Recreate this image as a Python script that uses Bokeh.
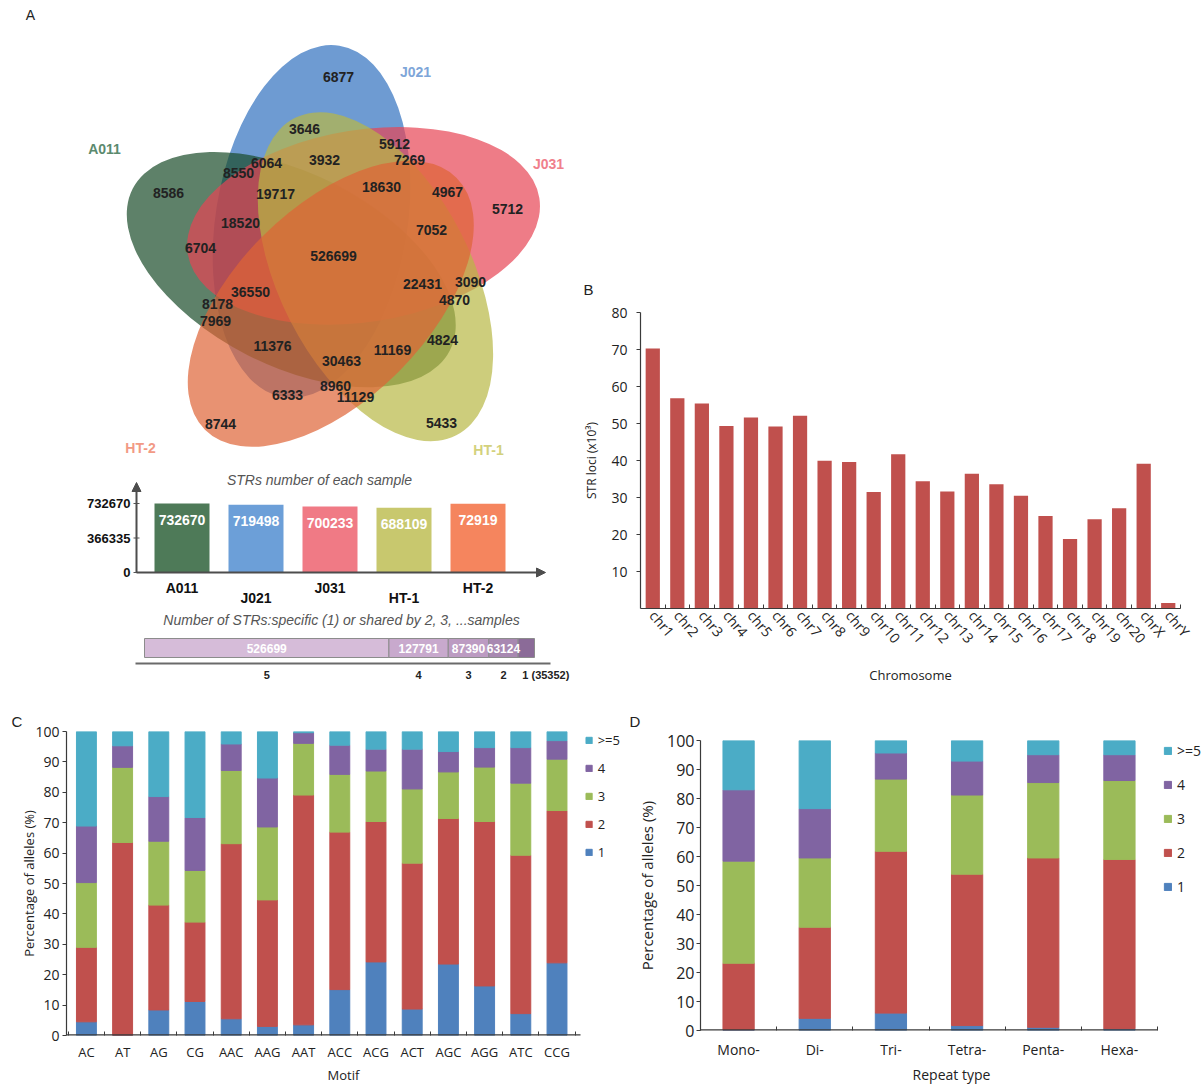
import math
from bokeh.plotting import figure
from bokeh.layouts import column, row
from bokeh.models import (Range1d, FixedTicker, ColumnDataSource, Arrow, NormalHead,
                          Legend, LegendItem, Spacer)
from bokeh.core.properties import value
from bokeh.embed import file_html
from bokeh.resources import INLINE

ARIAL = "Liberation Sans"
SANS = "Open Sans"

# ---------------- Panel A data ----------------
venn_sets = ["J021", "J031", "HT-1", "HT-2", "A011"]
venn_fill = ["#3070BF", "#E74554", "#B8B845", "#DE6436", "#1A4C29"]
venn_name_color = ["#7EA6D9", "#F0808C", "#D3D17D", "#F29A85", "#5B8A6E"]
venn_draw_order = ["J021", "A011", "J031", "HT-1", "HT-2"]
venn_name_px_x = [415, 548, 488, 140, 104]
venn_name_px_y = [71, 163, 449, 447, 148]

region_counts = [6877, 3646, 5912, 3932, 7269, 6064, 8550, 8586, 19717, 18630,
                 4967, 5712, 18520, 7052, 6704, 526699, 22431, 3090, 36550, 4870,
                 8178, 7969, 4824, 11376, 11169, 30463, 8960, 11129, 6333, 8744, 5433]
region_px_x = [338, 304, 394, 324, 409, 266, 238, 168, 275, 381,
               447, 507, 240, 431, 200, 333, 422, 470, 250, 454,
               217, 215, 442, 272, 392, 341, 335, 355, 287, 220, 441]
region_px_y = [76, 128, 143, 159, 159, 162, 172, 192, 193, 186,
               191, 208, 222, 229, 247, 255, 283, 281, 291, 299,
               303, 320, 339, 345, 349, 360, 385, 396, 394, 423, 422]

samples = ["A011", "J021", "J031", "HT-1", "HT-2"]
sample_totals = [732670, 719498, 700233, 688109, 729190]
sample_total_text = ["732670", "719498", "700233", "688109", "72919"]
sample_colors = ["#4E7A58", "#6C9FD8", "#F07A85", "#C8C86E", "#F5855E"]

shared_groups = ["5", "4", "3", "2", "1"]
shared_counts = [526699, 127791, 87390, 63124, 35352]
shared_colors = ["#D6BCD9", "#C8A9CD", "#BC9BC2", "#A888B1", "#8B6B98"]

# ---------------- Panel B data ----------------
chromosomes = ["chr1", "chr2", "chr3", "chr4", "chr5", "chr6", "chr7", "chr8", "chr9", "chr10",
               "chr11", "chr12", "chr13", "chr14", "chr15", "chr16", "chr17", "chr18", "chr19",
               "chr20", "chrX", "chrY"]
str_loci_k = [70.3, 56.8, 55.4, 49.3, 51.6, 49.2, 52.1, 39.9, 39.6, 31.5, 41.7,
              34.4, 31.6, 36.4, 33.6, 30.5, 25.0, 18.8, 24.1, 27.1, 39.1, 1.5]

# ---------------- Panel C / D data ----------------
allele_classes = ["1", "2", "3", "4", ">=5"]
allele_colors = ["#4F81BD", "#C0504D", "#9BBB59", "#8064A2", "#4BACC6"]

motifs = ["AC", "AT", "AG", "CG", "AAC", "AAG", "AAT", "ACC", "ACG", "ACT", "AGC", "AGG", "ATC", "CCG"]
motif_pct_1 = [4.5, 0.0, 8.4, 11.2, 5.5, 3.0, 3.5, 15.1, 24.2, 8.7, 23.5, 16.3, 7.2, 23.9]
motif_pct_2 = [24.5, 63.5, 34.5, 26.1, 57.6, 41.6, 75.6, 51.8, 46.2, 48.0, 47.9, 54.1, 52.1, 50.1]
motif_pct_3 = [21.3, 24.7, 21.0, 17.0, 24.1, 24.0, 17.0, 19.0, 16.6, 24.4, 15.3, 17.9, 23.7, 16.9]
motif_pct_4 = [18.6, 7.1, 14.7, 17.4, 8.7, 16.1, 3.5, 9.6, 7.2, 13.1, 6.7, 6.4, 11.7, 6.1]
motif_pct_5 = [31.1, 4.7, 21.4, 28.3, 4.1, 15.3, 0.4, 4.5, 5.8, 5.8, 6.6, 5.3, 5.3, 3.0]

repeat_types = ["Mono-", "Di-", "Tri-", "Tetra-", "Penta-", "Hexa-"]
repeat_pct_1 = [0.2, 4.2, 6.0, 1.7, 1.1, 0.7]
repeat_pct_2 = [23.0, 31.4, 55.8, 52.2, 58.4, 58.3]
repeat_pct_3 = [35.2, 23.9, 24.9, 27.3, 26.0, 27.2]
repeat_pct_4 = [24.6, 17.0, 9.0, 11.7, 9.6, 8.9]
repeat_pct_5 = [17.0, 23.5, 4.3, 7.1, 4.9, 4.9]

# ---------------- Venn geometry (layout, pixels) ----------------
venn_origin = (334, 259)
venn_offset = (-23.0, 38.0)
venn_axis_deg = 81.0
venn_a, venn_b = 178.0, 96.0
venn_alpha = 0.7

AXC = "#3a3a3a"


def base_fig(**kw):
    p = figure(toolbar_location=None, output_backend="svg", **kw)
    p.grid.visible = False
    p.outline_line_color = None
    return p


def txt(p, **kw):
    base = dict(text_font=value(ARIAL), text_align="center", text_baseline="middle")
    base.update(kw)
    return p.text(**base)


# ======================= Panel A: Venn =======================
pA1 = base_fig(width=580, height=470, x_range=Range1d(0, 580), y_range=Range1d(-470, 0),
               x_axis_location=None, y_axis_location=None, min_border=0)
ox, oy = venn_origin
for name in venn_draw_order:
    k = venn_sets.index(name)
    th = math.radians(-72 * k)
    dx = venn_offset[0] * math.cos(th) - venn_offset[1] * math.sin(th)
    dy = venn_offset[0] * math.sin(th) + venn_offset[1] * math.cos(th)
    phi = math.radians(venn_axis_deg - 72 * k)
    pA1.ellipse(x=ox + dx, y=-oy + dy, width=2 * venn_a, height=2 * venn_b, angle=phi,
                fill_color=venn_fill[k], fill_alpha=venn_alpha, line_color=None)

reg_src = ColumnDataSource(dict(x=region_px_x, y=[-v for v in region_px_y],
                                t=[str(c) for c in region_counts]))
txt(pA1, x="x", y="y", text="t", source=reg_src, text_font_style="bold",
    text_font_size="14px", text_color="#222222")
name_src = ColumnDataSource(dict(x=venn_name_px_x, y=[-v for v in venn_name_px_y], t=venn_sets,
                                 c=venn_name_color))
txt(pA1, x="x", y="y", text="t", text_color="c", source=name_src, text_font_style="bold",
    text_font_size="14px")
txt(pA1, x=[30], y=[-14], text=["A"], text_font_size="14px", text_color="#222222")

# ======================= Panel A: sample totals =======================
a2_unit = 74.0
a2_first = 181.5
a2_x = lambda px: (px - a2_first) / a2_unit
ymax = max(sample_totals)
a2_ppv = 69.0 / ymax
a2_base = 572
a2_y = lambda py: (a2_base - py) / a2_ppv
pA2 = base_fig(width=580, height=138, x_range=Range1d(a2_x(0), a2_x(580)),
               y_range=Range1d(a2_y(608), a2_y(470)),
               x_axis_location=None, y_axis_location=None, min_border=0)
xs = list(range(len(samples)))
pA2.vbar(x=xs, top=sample_totals, width=55 / a2_unit, fill_color=sample_colors, line_color=None)
axis_x = a2_x(136)
head = dict(size=9, fill_color="#4d4d4d", line_color="#4d4d4d")
pA2.add_layout(Arrow(end=NormalHead(**head), x_start=axis_x, y_start=0, x_end=axis_x,
                     y_end=a2_y(482), line_color="#4d4d4d", line_width=2))
pA2.add_layout(Arrow(end=NormalHead(**head), x_start=axis_x, y_start=0, x_end=a2_x(545),
                     y_end=0, line_color="#4d4d4d", line_width=2))
yticks = [0, ymax / 2, ymax]
txt(pA2, x=[axis_x] * 3, y=yticks, text=["%d" % t for t in yticks], x_offset=-6,
    text_align="right", text_font_style="bold", text_font_size="13px", text_color="#111111")
pA2.scatter(x=[axis_x] * 3, y=yticks, marker="dash", size=6, line_color="#555555")
txt(pA2, x=xs, y=sample_totals, text=sample_total_text, y_offset=16, text_font_style="bold",
    text_font_size="14px", text_color="white")
cat_src = ColumnDataSource(dict(x=xs, y=[0] * len(xs), t=samples,
                                off=[15 if i % 2 == 0 else 25 for i in xs]))
txt(pA2, x="x", y="y", text="t", y_offset="off", source=cat_src, text_font_style="bold",
    text_font_size="14px", text_color="#111111")
txt(pA2, x=[a2_x(319)], y=[a2_y(479)], text=["STRs number of each sample"],
    text_font_style="italic", text_font_size="14px", text_color="#555555")

# ======================= Panel A: shared bar =======================
total_shared = sum(shared_counts)
a3_ppc = 390.0 / total_shared
a3_x = lambda px: (px - 144) / a3_ppc
a3_y = lambda py: 698 - py
pA3 = base_fig(width=580, height=90, x_range=Range1d(a3_x(0), a3_x(580)),
               y_range=Range1d(0, 90), x_axis_location=None, y_axis_location=None, min_border=0)
lefts, rights, centers = [], [], []
acc = 0
for c in shared_counts:
    lefts.append(acc)
    rights.append(acc + c)
    centers.append(acc + c / 2)
    acc += c
pA3.hbar(y=a3_y(647.5), left=lefts, right=rights, height=19, fill_color=shared_colors,
         line_color="#8c8c8c", line_width=1)
txt(pA3, x=centers[:4], y=[a3_y(647.5)] * 4, text=[str(c) for c in shared_counts[:4]],
    text_font_style="bold", text_font_size="12px", text_color="white")
txt(pA3, x=[a3_x(341)], y=[a3_y(619)],
    text=["Number of STRs:specific (1) or shared by 2, 3, ...samples"],
    text_font_style="italic", text_font_size="14px", text_color="#555555")
pA3.line(x=[a3_x(135), a3_x(550)], y=[a3_y(663)] * 2, line_color="#6a6a6a", line_width=2)
grp_txt = list(shared_groups[:4]) + ["%s (%d)" % (shared_groups[4], shared_counts[4])]
grp_src = ColumnDataSource(dict(x=centers, y=[a3_y(674)] * 5, t=grp_txt,
                                al=["center"] * 4 + ["left"], xo=[0, 0, 0, 0, -4]))
txt(pA3, x="x", y="y", text="t", text_align="al", x_offset="xo", source=grp_src,
    text_font_style="bold", text_font_size="11px", text_color="#222222")

colA = column(pA1, pA2, pA3)


def style_axes(p, xfs, yfs, lfs):
    for ax in p.axis:
        ax.axis_line_color = AXC
        ax.axis_line_width = 1.2
        ax.major_label_text_font = SANS
        ax.major_label_text_color = "#222222"
        ax.axis_label_text_font = SANS
        ax.axis_label_text_font_style = "normal"
        ax.axis_label_text_color = "#222222"
        ax.axis_label_text_font_size = lfs
    for ax in p.xaxis:
        ax.major_tick_line_color = None
        ax.major_tick_out = 0
        ax.major_tick_in = 0
        ax.minor_tick_line_color = AXC
        ax.minor_tick_in = 4
        ax.minor_tick_out = 0
        ax.major_label_text_font_size = xfs
    for ax in p.yaxis:
        ax.minor_tick_line_color = None
        ax.major_tick_line_color = AXC
        ax.major_tick_in = 0
        ax.major_tick_out = 4
        ax.major_label_text_font_size = yfs


def panel_letter(p, letter, offset, standoff):
    p.title.text = letter
    p.title.align = "left"
    p.title.offset = offset
    p.title.standoff = standoff
    p.title.text_font = ARIAL
    p.title.text_font_style = "normal"
    p.title.text_font_size = "15px"
    p.title.text_color = "#222222"


# ======================= Panel B =======================
nb = len(chromosomes)
pB = base_fig(width=623, height=436, x_range=Range1d(-0.5, nb - 0.5), y_range=Range1d(0, 80),
              min_border_left=54, min_border_right=23, min_border_top=50, min_border_bottom=90)
xb = list(range(nb))
pB.vbar(x=xb, top=str_loci_k, width=0.58, fill_color="#C0504D", line_color=None)
style_axes(pB, "14px", "14px", "12px")
pB.xaxis.ticker = FixedTicker(ticks=xb, minor_ticks=[i + 0.5 for i in xb])
pB.xaxis.major_label_overrides = {i: c for i, c in enumerate(chromosomes)}
pB.xaxis.major_label_orientation = -0.87
pB.xaxis.major_label_standoff = 4
pB.xaxis.axis_label = "Chromosome"
pB.xaxis.axis_label_text_font_size = "13px"
pB.xaxis.axis_label_standoff = 10
pB.yaxis.ticker = FixedTicker(ticks=[10, 20, 30, 40, 50, 60, 70, 80])
pB.yaxis.major_label_standoff = 9
pB.yaxis.axis_label = "STR loci (x10³)"
pB.yaxis.axis_label_standoff = 8
panel_letter(pB, "B", -57, 30)
colB = column(Spacer(width=623, height=262), pB)


def stacked(p, names, vals, width, glyph, lab_h, spacing, lfs, margin, x_end):
    n = len(names)
    src = ColumnDataSource(dict(x=list(range(n)), c1=vals[0], c2=vals[1], c3=vals[2],
                                c4=vals[3], c5=vals[4]))
    rs = p.vbar_stack(["c1", "c2", "c3", "c4", "c5"], x="x", width=width, color=allele_colors,
                      source=src)
    items = [LegendItem(label=value(lab), renderers=[r])
             for lab, r in zip(allele_classes[::-1], rs[::-1])]
    leg = Legend(items=items, location="top_right", glyph_width=glyph, glyph_height=glyph,
                 label_standoff=5, label_text_font=SANS, label_text_font_size=lfs,
                 label_text_color="#222222", label_height=lab_h, spacing=spacing,
                 padding=0, margin=margin, border_line_color=None, background_fill_alpha=0)
    p.add_layout(leg)
    # x-axis line drawn only under the bars (legend sits to its right)
    p.line(x=[p.x_range.start, x_end], y=[0, 0], line_color=AXC, line_width=2.4)
    p.xaxis.axis_line_color = None
    p.xaxis.ticker = FixedTicker(ticks=list(range(n)),
                                 minor_ticks=[i - 0.5 for i in range(n)] + [n - 0.5])
    p.xaxis.major_label_overrides = {i: c for i, c in enumerate(names)}
    p.yaxis.ticker = FixedTicker(ticks=list(range(0, 101, 10)))


# ======================= Panel C =======================
c_unit = 36.2
pC = base_fig(width=620, height=388, x_range=Range1d(-0.55, -0.55 + 554 / c_unit),
              y_range=Range1d(0, 100),
              min_border_left=66, min_border_right=0, min_border_top=33, min_border_bottom=51)
style_axes(pC, "13px", "14px", "13px")
stacked(pC, motifs, [motif_pct_1, motif_pct_2, motif_pct_3, motif_pct_4, motif_pct_5],
        0.55, 8, 17, 10, "13px", 0, -0.55 + 514 / c_unit)
pC.xaxis.major_label_standoff = 7
pC.xaxis.axis_label = "Motif"
pC.xaxis.axis_label_standoff = 2
pC.yaxis.major_label_standoff = 3
pC.yaxis.axis_label = "Percentage of alleles (%)"
pC.yaxis.axis_label_standoff = -6
panel_letter(pC, "C", -55, 4)

# ======================= Panel D =======================
d_unit = 76.17
pD = base_fig(width=582, height=388, x_range=Range1d(-0.5, -0.5 + 502 / d_unit),
              y_range=Range1d(0, 100),
              min_border_left=80, min_border_right=0, min_border_top=42, min_border_bottom=55)
style_axes(pD, "14px", "16px", "15px")
stacked(pD, repeat_types, [repeat_pct_1, repeat_pct_2, repeat_pct_3, repeat_pct_4, repeat_pct_5],
        0.41, 9, 18, 15, "14px", 1, 5.5)
pD.xaxis.major_label_standoff = 9
pD.xaxis.axis_label = "Repeat type"
pD.xaxis.axis_label_text_font_size = "14px"
pD.xaxis.axis_label_standoff = 3
pD.yaxis.major_label_standoff = 2
pD.yaxis.axis_label = "Percentage of alleles (%)"
pD.yaxis.axis_label_standoff = 7
panel_letter(pD, "D", -71, 22)

layout = column(row(colA, colB), row(column(pC), column(pD)))
open("out.html", "w").write(file_html(layout, INLINE))
